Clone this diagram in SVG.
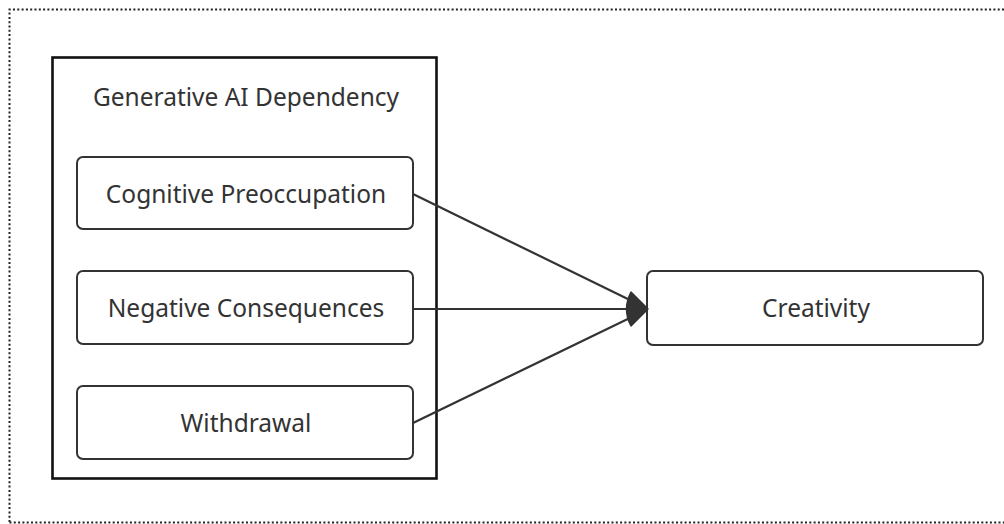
<svg xmlns="http://www.w3.org/2000/svg" width="1004" height="524" viewBox="0 0 1004 524">
<style>
.t{font-family:"Noto Sans","Open Sans",sans-serif;font-size:24.5px;fill:#333;text-anchor:middle}
.b{fill:#fff;stroke:#333;stroke-width:2}
.c{stroke:#333;stroke-width:2.2;fill:none}
</style>
<rect width="1004" height="524" fill="#fff"/>
<path d="M9.5 522 V9.5 H1010 M9.5 522.5 H1010" fill="none" stroke="#222" stroke-width="2" stroke-dasharray="2 2.3"/>
<g id="group-dependency">
<rect x="52.5" y="57.5" width="384" height="421" fill="#fff" stroke="#111" stroke-width="2.6"/>
<text class="t" x="246" y="106">Generative AI Dependency</text>
</g>
<g id="node-cognitive">
<rect class="b" x="77" y="157" width="336" height="72" rx="6"/>
<text class="t" x="246" y="203">Cognitive Preoccupation</text>
</g>
<g id="node-negative">
<rect class="b" x="77" y="271" width="336" height="73" rx="6"/>
<text class="t" x="246" y="317">Negative Consequences</text>
</g>
<g id="node-withdrawal">
<rect class="b" x="77" y="386" width="336" height="73" rx="6"/>
<text class="t" x="246" y="432">Withdrawal</text>
</g>
<g id="node-creativity">
<rect class="b" x="647" y="271" width="336" height="74" rx="6"/>
<text class="t" x="816" y="317">Creativity</text>
</g>
<g id="connectors">
<line class="c" x1="413" y1="194" x2="636" y2="303"/>
<line class="c" x1="413" y1="309" x2="636" y2="309"/>
<line class="c" x1="413" y1="423" x2="636" y2="315"/>
<path d="M648 309 L631 292 Q622 309 631 326 Z" fill="#333" stroke="#333" stroke-width="1.5" stroke-linejoin="round"/>
</g>
</svg>
